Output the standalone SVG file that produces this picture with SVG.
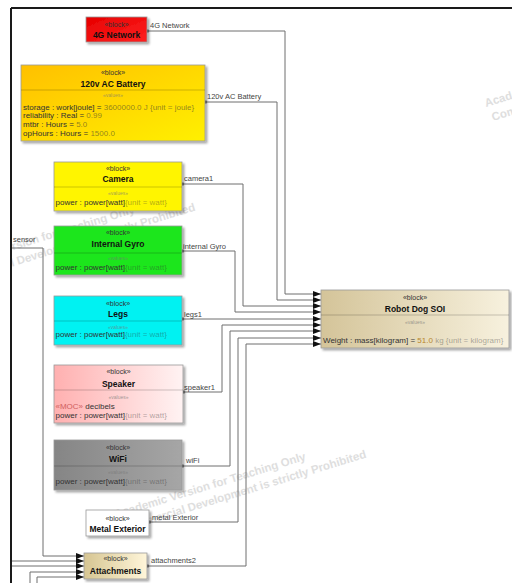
<svg xmlns="http://www.w3.org/2000/svg" width="512" height="583" viewBox="0 0 512 583">
<style>
text{font-family:"Liberation Sans",Arial,sans-serif}
.st{font-size:7px;text-anchor:middle;fill:#333}
.nm{font-size:8.5px;font-weight:bold;text-anchor:middle;fill:#111}
.vh{font-size:5px;text-anchor:middle;fill:#777;fill-opacity:.7}
.vl{font-size:8px;fill:#333}
.u{fill-opacity:.4}
.cl{font-size:7.5px;fill:#444}
.ln{fill:none;stroke:#6e6e6e;stroke-width:1;marker-end:url(#arr)}
.pt{fill:#444}
.bx{stroke:#9a9a9a;stroke-width:.8;filter:url(#sh)}
.dv{stroke:#000;stroke-opacity:.25;stroke-width:.8}
.wm{font-size:11.5px;font-weight:bold;fill:#dedede}
</style>
<defs>
<filter id="sh" x="-10%" y="-10%" width="130%" height="140%"><feDropShadow dx="2" dy="2" stdDeviation="1" flood-color="#000" flood-opacity=".35"/></filter>
<marker id="arr" viewBox="0 0 8 6" refX="8" refY="3" markerWidth="8" markerHeight="6" markerUnits="userSpaceOnUse" orient="auto"><path d="M0,0 L8,3 L0,6 z" fill="#111"/></marker>
<linearGradient id="g4g" x1="0" y1="0" x2="1" y2="1"><stop offset="0" stop-color="#E60000"/><stop offset="1" stop-color="#FF2020"/></linearGradient>
<linearGradient id="gBat" x1="0" y1="0" x2="1" y2="1"><stop offset="0" stop-color="#FFC000"/><stop offset="1" stop-color="#FFF000"/></linearGradient>
<linearGradient id="gSpk" x1="0" y1="0" x2="1" y2="0"><stop offset="0" stop-color="#FFB0B0"/><stop offset="1" stop-color="#FFF3F3"/></linearGradient>
<linearGradient id="gWifi" x1="0" y1="0" x2="1" y2="0"><stop offset="0" stop-color="#858585"/><stop offset="1" stop-color="#A6A6A6"/></linearGradient>
<linearGradient id="gAtt" x1="0" y1="0" x2="1" y2="0"><stop offset="0" stop-color="#D6C592"/><stop offset="1" stop-color="#FFF6DA"/></linearGradient>
<linearGradient id="gDog" x1="0" y1="0" x2="1" y2="0"><stop offset="0" stop-color="#D4C499"/><stop offset="1" stop-color="#F7F1DE"/></linearGradient>
<clipPath id="fr"><rect x="12" y="9" width="500" height="574"/></clipPath>
</defs>
<rect width="512" height="583" fill="#fff"/>

<g id="watermark" clip-path="url(#fr)">
<text class="wm" transform="translate(116,518) rotate(-17)">Academic Version for Teaching Only</text>
<text class="wm" transform="translate(123,532) rotate(-17)">Commercial Development is strictly Prohibited</text>
<text class="wm" transform="translate(-55,271) rotate(-17)">Academic Version for Teaching Only</text>
<text class="wm" transform="translate(-48,285) rotate(-17)">Commercial Development is strictly Prohibited</text>
<text class="wm" transform="translate(486,107) rotate(-17)">Academic Version for Teaching Only</text>
<text class="wm" transform="translate(493,121) rotate(-17)">Commercial Development is strictly Prohibited</text>
</g>

<g id="frame" fill="none" stroke="#1a1a1a" stroke-width="2">
<path d="M11,8 H512 M11,8 V583"/>
</g>

<g id="connectors">
<path class="ln" d="M147,31 H285 V294 H321"/>
<path class="ln" d="M205,102 H277 V300 H321"/>
<path class="ln" d="M182,184 H243 V306 H321"/>
<path class="ln" d="M182,251 H235 V312 H321"/>
<path class="ln" d="M182,319 H321"/>
<path class="ln" d="M183,392 H222 V325 H321"/>
<path class="ln" d="M182,466 H230 V331 H321"/>
<path class="ln" d="M149,522 H238 V338 H321"/>
<path class="ln" d="M147,566 H246 V344 H321"/>
<path class="ln" d="M12,248 H43 V556 H84"/>
<path class="ln" d="M12,561 H84"/>
<path class="ln" d="M12,566 H84"/>
<path class="ln" d="M30,583 V572 H84"/>
<path class="ln" d="M37,583 V577 H84"/>
<rect class="pt" x="145.5" y="29.5" width="3" height="3"/>
<rect class="pt" x="203.5" y="100.5" width="3" height="3"/>
<rect class="pt" x="180.5" y="182.5" width="3" height="3"/>
<rect class="pt" x="180.5" y="249.5" width="3" height="3"/>
<rect class="pt" x="180.5" y="317.5" width="3" height="3"/>
<rect class="pt" x="181.5" y="390.5" width="3" height="3"/>
<rect class="pt" x="180.5" y="464.5" width="3" height="3"/>
<rect class="pt" x="147.5" y="520.5" width="3" height="3"/>
<rect class="pt" x="145.5" y="564.5" width="3" height="3"/>
<text class="cl" x="150" y="28">4G Network</text>
<text class="cl" x="207" y="98.5" font-size="7">120v AC Battery</text>
<text class="cl" x="184" y="180.5">camera1</text>
<text class="cl" x="183" y="249">internal Gyro</text>
<text class="cl" x="184" y="316.5">legs1</text>
<text class="cl" x="184" y="389.5">speaker1</text>
<text class="cl" x="186" y="463">wiFi</text>
<text class="cl" x="152" y="519.5">metal Exterior</text>
<text class="cl" x="151" y="562.5">attachments2</text>
<text class="cl" x="13" y="242">sensor</text>
</g>

<g id="node-4g-network">
<rect class="bx" x="86" y="17" width="61" height="25" fill="url(#g4g)"/>
<text class="st" x="116.5" y="27" font-size="6" fill="#700">«block»</text>
<text class="nm" x="116.5" y="38" font-size="8" fill="#300">4G Network</text>
</g>

<g id="node-battery">
<rect class="bx" x="21" y="65" width="184" height="76" fill="url(#gBat)"/>
<text class="st" x="113" y="74.5" font-size="6">«block»</text>
<text class="nm" x="113" y="86.5" font-size="7.5">120v AC Battery</text>
<line class="dv" x1="21" y1="90" x2="205" y2="90"/>
<text class="vh" x="113" y="96.5">«values»</text>
<text class="vl" x="23" y="109.5" fill="#4a3500">storage : work[joule] = <tspan fill-opacity=".55">3600000.0 J {unit = joule}</tspan></text>
<text class="vl" x="23" y="118" fill="#4a3500">reliability : Real = <tspan fill-opacity=".55">0.99</tspan></text>
<text class="vl" x="23" y="126.5" fill="#4a3500">mtbr : Hours = <tspan fill-opacity=".55">5.0</tspan></text>
<text class="vl" x="23" y="135.5" fill="#4a3500">opHours : Hours = <tspan fill-opacity=".55">1500.0</tspan></text>
</g>

<g id="node-camera">
<rect class="bx" x="54" y="162" width="128" height="49" fill="#FFF500"/>
<text class="st" x="118" y="170.5">«block»</text>
<text class="nm" x="118" y="182">Camera</text>
<line class="dv" x1="54" y1="187" x2="182" y2="187"/>
<text class="vh" x="118" y="194.5">«values»</text>
<text class="vl" x="55.5" y="205" fill="#4a4200">power : power[watt]<tspan class="u">{unit = watt}</tspan></text>
</g>

<g id="node-internal-gyro">
<rect class="bx" x="54" y="226" width="128" height="49" fill="#1EE61E"/>
<text class="st" x="118" y="234.5">«block»</text>
<text class="nm" x="118" y="247">Internal Gyro</text>
<line class="dv" x1="54" y1="253" x2="182" y2="253"/>
<text class="vh" x="118" y="260">«values»</text>
<text class="vl" x="55.5" y="270" fill="#1a3a1a">power : power[watt]<tspan class="u">{unit = watt}</tspan></text>
</g>

<g id="node-legs">
<rect class="bx" x="54" y="296" width="128" height="49" fill="#00F2F2"/>
<text class="st" x="118" y="305.5">«block»</text>
<text class="nm" x="118" y="317">Legs</text>
<line class="dv" x1="54" y1="321" x2="182" y2="321"/>
<text class="vh" x="118" y="328.5">«values»</text>
<text class="vl" x="55.5" y="337" fill="#1a3a3a">power : power[watt]<tspan class="u">{unit = watt}</tspan></text>
</g>

<g id="node-speaker">
<rect class="bx" x="54" y="365" width="129" height="58" fill="url(#gSpk)"/>
<text class="st" x="118.5" y="373.5">«block»</text>
<text class="nm" x="118.5" y="387">Speaker</text>
<line class="dv" x1="54" y1="390" x2="183" y2="390"/>
<text class="vh" x="118.5" y="398.5">«values»</text>
<text class="vl" x="55.5" y="409" fill="#3a2a2a"><tspan fill="#d06060">«MOC»</tspan> decibels</text>
<text class="vl" x="55.5" y="418" fill="#3a2a2a">power : power[watt]<tspan class="u">{unit = watt}</tspan></text>
</g>

<g id="node-wifi">
<rect class="bx" x="54" y="440" width="128" height="50" fill="url(#gWifi)"/>
<text class="st" x="118" y="449.5">«block»</text>
<text class="nm" x="118" y="462">WiFi</text>
<line class="dv" x1="54" y1="466" x2="182" y2="466"/>
<text class="vh" x="118" y="474">«values»</text>
<text class="vl" x="55.5" y="484" fill="#2a2a2a">power : power[watt]<tspan class="u">{unit = watt}</tspan></text>
</g>

<g id="node-metal-exterior">
<rect class="bx" x="86" y="510" width="63" height="26" fill="#fff"/>
<text class="st" x="117.5" y="521">«block»</text>
<text class="nm" x="117.5" y="531.5">Metal Exterior</text>
</g>

<g id="node-attachments">
<rect class="bx" x="84" y="553" width="63" height="26" fill="url(#gAtt)"/>
<text class="st" x="115.5" y="561">«block»</text>
<text class="nm" x="115.5" y="574">Attachments</text>
</g>

<g id="node-robot-dog-soi">
<rect class="bx" x="321" y="290" width="188" height="58" fill="url(#gDog)"/>
<text class="st" x="415" y="299.5">«block»</text>
<text class="nm" x="415" y="312" font-size="8">Robot Dog SOI</text>
<line class="dv" x1="321" y1="315" x2="509" y2="315"/>
<text class="vh" x="415" y="324">«values»</text>
<text class="vl" x="323" y="343" fill="#4a3d1a">Weight : mass[kilogram] = <tspan fill="#b7862c">51.0</tspan><tspan class="u"> kg {unit = kilogram}</tspan></text>
</g>
</svg>
